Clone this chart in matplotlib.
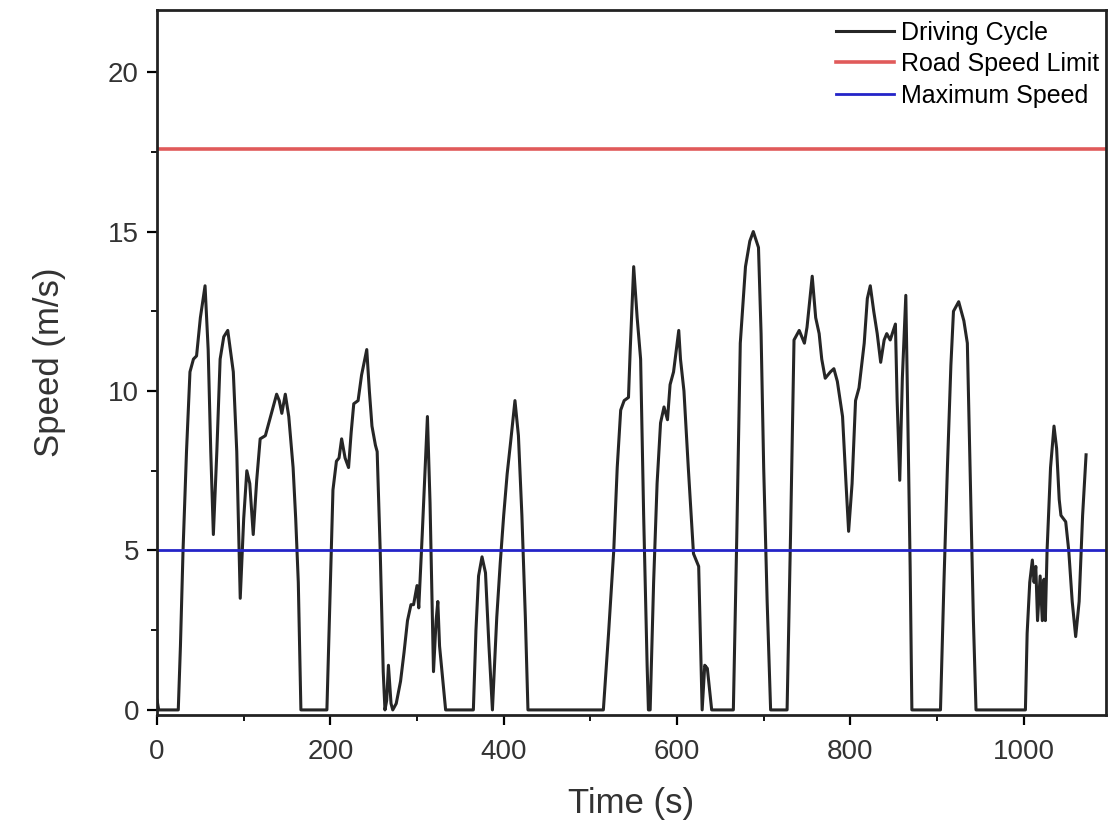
import matplotlib
matplotlib.use('Agg')
import matplotlib.pyplot as plt

# driving cycle (time in s, speed in m/s)
time = [0, 2, 24.5, 27, 30, 34, 38, 42, 45.6, 50, 55.4, 59, 62, 65, 69, 72.8, 77, 81.6, 88, 92, 96,
        100, 103.6, 107, 111, 115, 119, 125, 131, 135, 138, 141, 144, 148, 152, 157, 160, 163, 166,
        196, 199, 203, 207, 210, 213, 217, 221, 224, 227, 232, 236, 242, 245, 248, 252, 254, 257.5, 261, 263,
        265, 267, 270, 272, 276, 281, 285, 289, 293, 296, 300, 302, 306, 312, 315, 319, 322, 324, 326, 333,
        365, 368, 371, 375, 379, 383, 387, 392, 396, 400, 404, 408, 413, 417, 421, 425, 428,
        515, 521, 527, 531, 535, 539, 544, 546, 550, 554, 558, 561.5, 565.5, 567,
        569, 573, 577, 581, 585, 589, 592, 596, 602, 604, 608, 613, 619, 622, 625, 629, 632, 635, 640,
        665, 669, 673, 679, 684, 688, 694, 697, 700, 704, 708,
        727, 731, 735, 741, 747, 750, 756, 760, 764, 767, 771, 777, 781, 785, 791, 795, 798, 802, 806,
        810, 816, 819.6, 823, 827, 831, 835, 839, 842, 846, 852, 854, 857, 860, 864, 866, 869, 871,
        904, 908, 912, 916, 919, 925, 931, 935, 939, 942, 945,
        1002, 1004, 1007, 1010, 1012, 1014, 1016, 1019, 1021.5, 1023.5, 1025, 1027, 1031, 1035, 1038,
        1041, 1043, 1048.5, 1052, 1056, 1060, 1064, 1068, 1072]
speed = [0.3, 0, 0, 2.0, 5.0, 8.1, 10.6, 11.0, 11.1, 12.3, 13.3, 11.3, 8.1, 5.5, 8.1, 11.0, 11.7, 11.9, 10.6, 8.1, 3.5,
         6.0, 7.5, 7.1, 5.5, 7.2, 8.5, 8.6, 9.2, 9.6, 9.9, 9.7, 9.3, 9.9, 9.2, 7.6, 6.0, 4.0, 0,
         0, 3.0, 6.9, 7.8, 7.9, 8.5, 7.9, 7.6, 8.7, 9.6, 9.7, 10.5, 11.3, 10.0, 8.9, 8.3, 8.1, 5.0, 1.2, 0,
         0.3, 1.4, 0.2, 0, 0.2, 0.9, 1.8, 2.8, 3.3, 3.3, 3.9, 3.2, 5.5, 9.2, 6.5, 1.2, 2.8, 3.4, 2.0, 0,
         0, 2.5, 4.2, 4.8, 4.3, 2.0, 0, 2.9, 4.6, 6.1, 7.4, 8.4, 9.7, 8.6, 6.1, 2.9, 0,
         0, 2.4, 5.0, 7.6, 9.4, 9.7, 9.8, 11.3, 13.9, 12.3, 11.0, 6.1, 1.4, 0,
         0, 4.0, 7.1, 9.0, 9.5, 9.1, 10.2, 10.6, 11.9, 11.0, 10.0, 7.6, 4.9, 4.7, 4.5, 0, 1.4, 1.3, 0,
         0, 5.5, 11.5, 13.9, 14.7, 15.0, 14.5, 11.8, 7.6, 3.4, 0,
         0, 5.5, 11.6, 11.9, 11.5, 12.0, 13.6, 12.3, 11.8, 11.0, 10.4, 10.6, 10.7, 10.3, 9.2, 7.1, 5.6, 7.1, 9.7,
         10.1, 11.5, 12.9, 13.3, 12.5, 11.8, 10.9, 11.6, 11.8, 11.6, 12.1, 9.7, 7.2, 10.4, 13.0, 9.7, 4.5, 0,
         0, 4.0, 7.6, 10.8, 12.5, 12.8, 12.2, 11.5, 6.6, 2.8, 0,
         0, 2.4, 4.0, 4.7, 4.0, 4.5, 2.8, 4.2, 2.8, 4.1, 2.8, 5.0, 7.6, 8.9, 8.2,
         6.6, 6.1, 5.9, 5.0, 3.4, 2.3, 3.4, 6.1, 8.0]
road_limit = 17.6
max_speed = 5.0

plt.rcParams['font.family'] = ['Liberation Sans', 'DejaVu Sans']
fig = plt.figure(figsize=(11.09, 8.27), dpi=100)
ax = fig.add_axes([0.1416, 0.1354, 0.8557, 0.8526])

ax.plot(time, speed, '-', color='#262626', lw=2.2, label='Driving Cycle')
ax.axhline(road_limit, color='#e05a5a', lw=2.6, label='Road Speed Limit')
ax.axhline(max_speed, color='#2424c8', lw=2.0, label='Maximum Speed')

ax.set_xlim(0, 1095)
ax.set_ylim(-0.16, 21.95)
ax.set_xticks([0, 200, 400, 600, 800, 1000])
ax.set_xticks(range(100, 1100, 200), minor=True)
ax.set_yticks([0, 5, 10, 15, 20])
ax.set_yticks([2.5, 7.5, 12.5, 17.5], minor=True)
ax.tick_params(which='major', direction='out', length=7, width=1.6, labelsize=20,
               labelcolor='#333333', pad=6)
ax.tick_params(axis='x', which='major', pad=10)
ax.tick_params(which='minor', direction='out', length=4, width=1.3)
for s in ax.spines.values():
    s.set_linewidth(2.0)
    s.set_color('#222222')

ax.set_xlabel('Time (s)', fontsize=25, color='#333333', labelpad=16)
ax.set_ylabel('Speed (m/s)', fontsize=25, color='#333333', labelpad=30)

ax.legend(loc='upper right', bbox_to_anchor=(0.993, 0.985), frameon=False, fontsize=18,
          handlelength=2.3, handletextpad=0.3, labelspacing=0.3, borderpad=0, borderaxespad=0)

fig.savefig('out.png', dpi=100)
